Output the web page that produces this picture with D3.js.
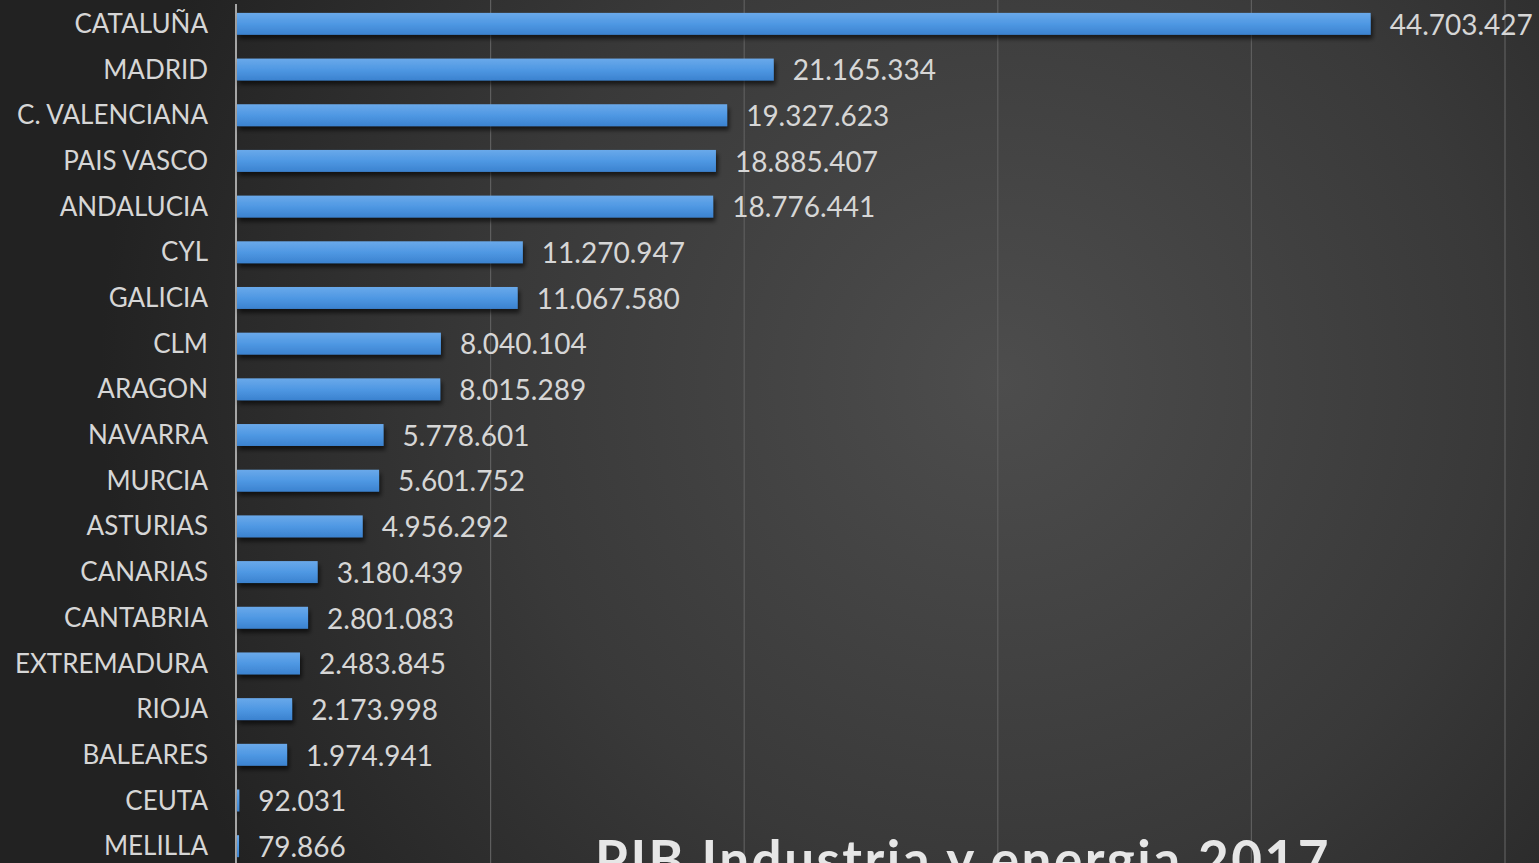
<!DOCTYPE html>
<html>
<head>
<meta charset="utf-8">
<script src="https://cdn.jsdelivr.net/npm/d3@7"></script>
<style>
  html, body { margin: 0; padding: 0; background: #2a2a2a; overflow: hidden; }
  text { font-family: Lato, "Open Sans", sans-serif; }
</style>
</head>
<body>
<svg id="chart" viewBox="0 0 1539 863" width="1539" height="863"></svg>
<script>
// regions, largest first
const regions = ["CATALUÑA", "MADRID", "C. VALENCIANA", "PAIS VASCO", "ANDALUCIA", "CYL",
  "GALICIA", "CLM", "ARAGON", "NAVARRA", "MURCIA", "ASTURIAS", "CANARIAS", "CANTABRIA",
  "EXTREMADURA", "RIOJA", "BALEARES", "CEUTA", "MELILLA"];
const pib = [44703427, 21165334, 19327623, 18885407, 18776441, 11270947,
  11067580, 8040104, 8015289, 5778601, 5601752, 4956292, 3180439, 2801083,
  2483845, 2173998, 1974941, 92031, 79866];
const gridTicks = [10000000, 20000000, 30000000, 40000000, 50000000];
const title = "PIB Industria y energia 2017";

const svg = d3.select("#chart");
const width = 1539, height = 863;

const defs = svg.append("defs");
const bg = defs.append("radialGradient").attr("id", "bg")
  .attr("gradientUnits", "userSpaceOnUse")
  .attr("cx", 1000).attr("cy", 380).attr("r", 900);
bg.append("stop").attr("offset", "0%").attr("stop-color", "#4d4d4d");
bg.append("stop").attr("offset", "55%").attr("stop-color", "#393939");
bg.append("stop").attr("offset", "100%").attr("stop-color", "#222222");

const barGrad = defs.append("linearGradient").attr("id", "bar")
  .attr("x1", 0).attr("y1", 0).attr("x2", 0).attr("y2", 1);
barGrad.append("stop").attr("offset", "0%").attr("stop-color", "#6aa9ea");
barGrad.append("stop").attr("offset", "50%").attr("stop-color", "#4f98e3");
barGrad.append("stop").attr("offset", "100%").attr("stop-color", "#3b82cf");

const shadow = defs.append("filter").attr("id", "shadow")
  .attr("x", "-5%").attr("y", "-50%").attr("width", "115%").attr("height", "220%");
shadow.append("feDropShadow").attr("dx", 2).attr("dy", 4).attr("stdDeviation", 2)
  .attr("flood-color", "#000").attr("flood-opacity", 0.6);

svg.append("rect").attr("width", width).attr("height", height).attr("fill", "url(#bg)");

const x = d3.scaleLinear().domain([0, 50000000]).range([237, 1505]);
const y = d3.scaleBand().domain(regions).range([1, 869]).paddingInner(0.52).paddingOuter(0.26);

// gridlines
svg.append("g")
  .selectAll("line")
  .data(gridTicks)
  .enter()
  .append("line")
  .attr("x1", d => x(d)).attr("x2", d => x(d))
  .attr("y1", 0).attr("y2", height)
  .attr("stroke", "#5e5e5e").attr("stroke-width", 1.2);

// axis line
svg.append("line")
  .attr("x1", x(0) - 1).attr("x2", x(0) - 1)
  .attr("y1", 4).attr("y2", height)
  .attr("stroke", "#a6a6a6").attr("stroke-width", 2);

const rows = regions.map((r, i) => ({ region: r, value: pib[i] }));

svg.append("g")
  .selectAll("rect")
  .data(rows)
  .enter()
  .append("rect")
  .attr("x", x(0))
  .attr("y", d => y(d.region))
  .attr("width", d => x(d.value) - x(0))
  .attr("height", y.bandwidth())
  .attr("fill", "url(#bar)")
  .attr("filter", "url(#shadow)");

// category labels
svg.append("g")
  .selectAll("text")
  .data(rows)
  .enter()
  .append("text")
  .attr("x", 208)
  .attr("y", d => y(d.region) + y.bandwidth() / 2)
  .attr("dy", "0.35em")
  .attr("text-anchor", "end")
  .attr("font-size", 26)
  .attr("fill", "#d6d6d6")
  .text(d => d.region);

// value labels
const fmt = v => d3.format(",")(v).replace(/,/g, ".");
svg.append("g")
  .selectAll("text")
  .data(rows)
  .enter()
  .append("text")
  .attr("x", d => x(d.value) + 19)
  .attr("y", d => y(d.region) + y.bandwidth() / 2 + 1)
  .attr("dy", "0.35em")
  .attr("font-size", 28)
  .attr("fill", "#d6d6d6")
  .text(d => fmt(d.value));

// title, cut off by the bottom edge like the source image
svg.append("text")
  .attr("x", 963)
  .attr("y", 879)
  .attr("text-anchor", "middle")
  .attr("font-size", 53)
  .attr("font-weight", "bold")
  .attr("letter-spacing", 2.5)
  .attr("fill", "#e6e6e6")
  .text(title);
</script>
</body>
</html>
